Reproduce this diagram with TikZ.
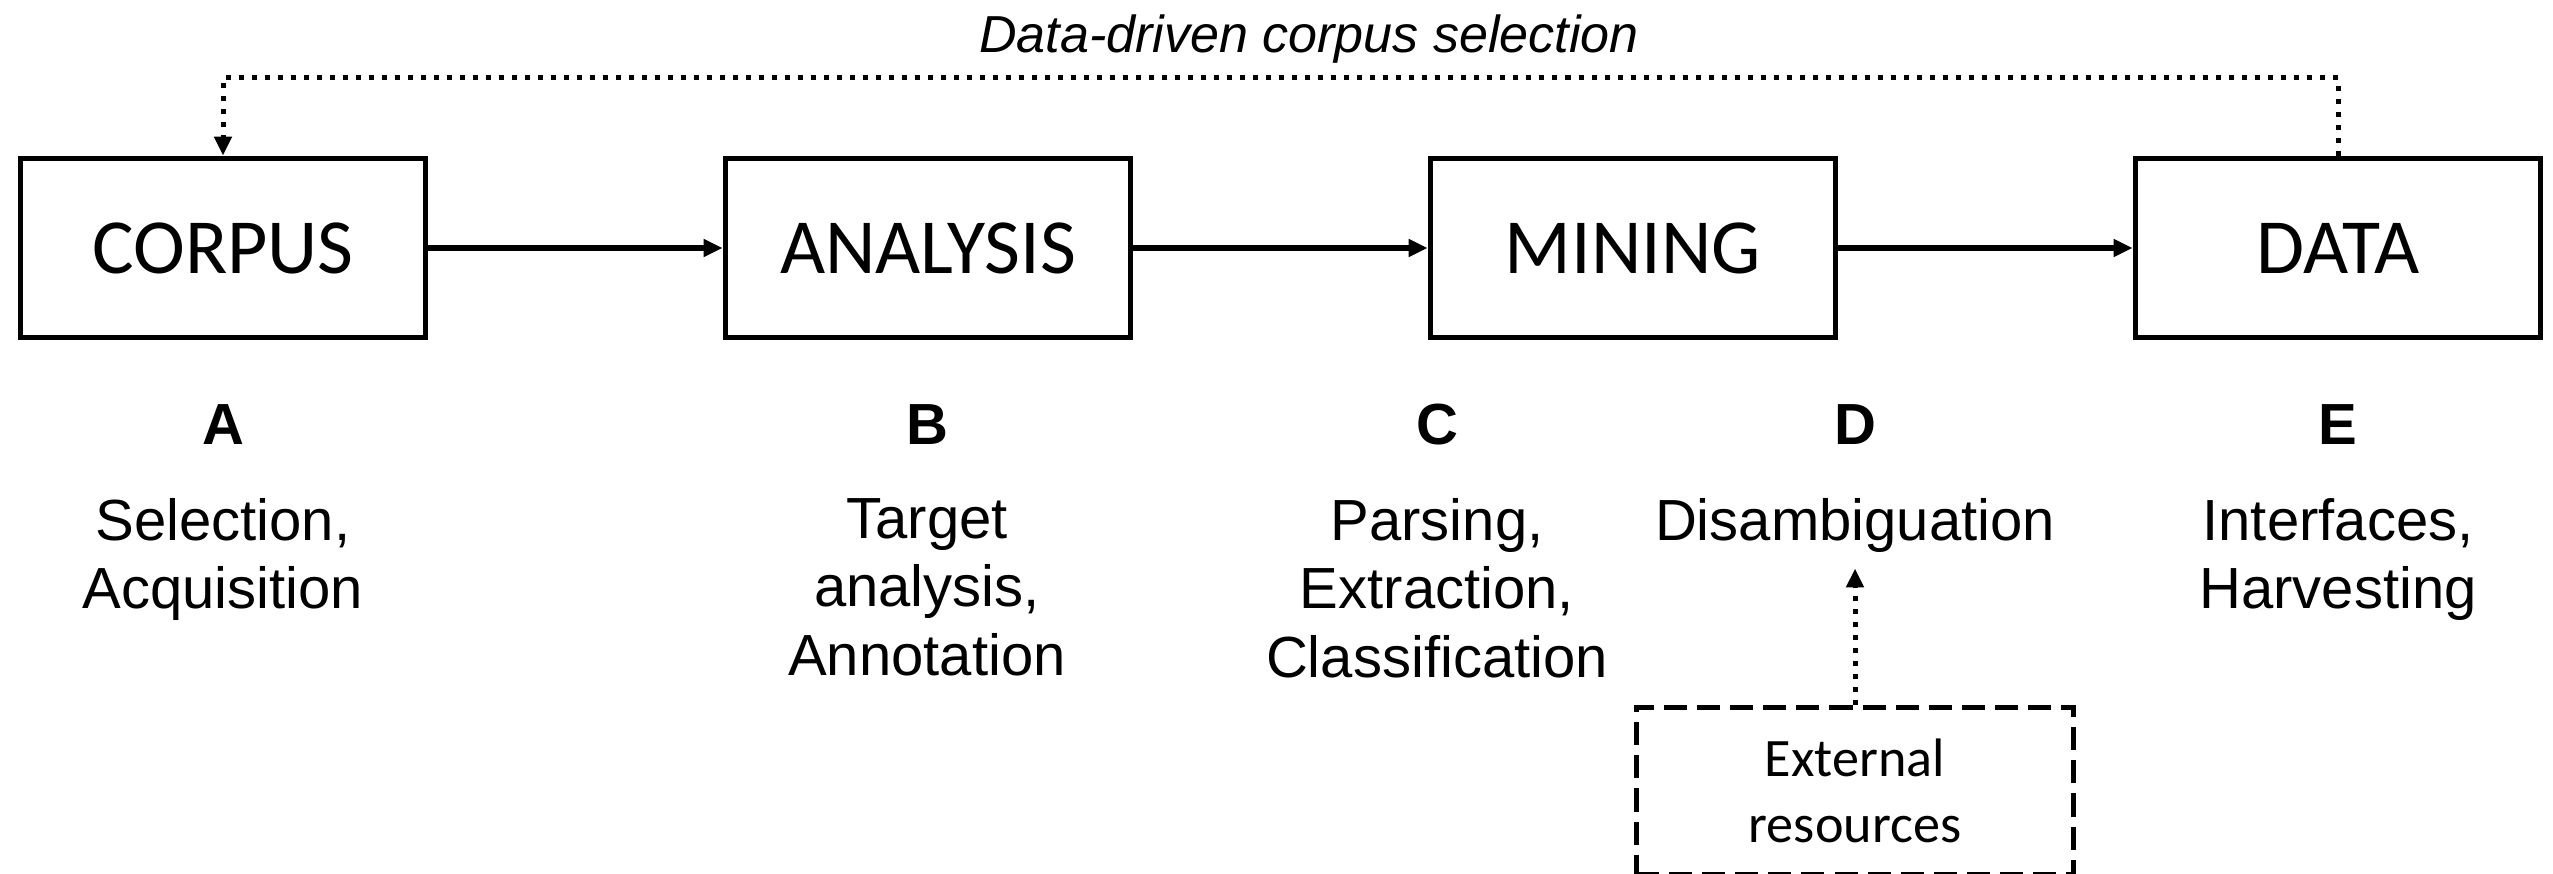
\documentclass[tikz,border=0pt]{standalone}
\usepackage{fontspec}
\setmainfont{Liberation Sans}
\newfontfamily\stagefont{Carlito}
\usepackage{tikz}
\usetikzlibrary{positioning,arrows.meta}
\tikzset{%
	stage/.style={
		rectangle,
		draw,
		line width=0.055cm,
		minimum width=4.05cm,
		minimum height=1.79cm,
		font=\stagefont\fontsize{22.2}{26}\selectfont
	},
	stage-letter/.style={
		anchor=base,
		inner sep=0pt,
		font=\bfseries\fontsize{16.5}{19.6}\selectfont
	},
	stage-task/.style={
		anchor=north,
		inner sep=0pt,
		align=center,
		font=\fontsize{16.5}{19.4}\selectfont
	},
	resource/.style={
		draw,
		line width=0.05cm,
		dash pattern=on 0.23cm off 0.1cm,
		minimum width=4.37cm,
		minimum height=1.67cm,
		align=center,
		font=\stagefont\fontsize{15.4}{19}\selectfont
	},
	flow/.style={->, line width=0.055cm},
	feedback/.style={->, line width=0.05cm, dash pattern=on 0.05cm off 0.08cm},
}

\begin{document}
\begin{tikzpicture}[x=0.01cm, y=-0.01cm, >={Triangle[length=0.19cm,width=0.17cm]}]
\useasboundingbox (0,0) rectangle (2553,874);

% stages
\foreach \m [count=\y] in {CORPUS,ANALYSIS,MINING,DATA}
	\node[stage] (stage-\y) at (223+705*\y-705,248) {\m};

% stage letters
\foreach \l/\x [count=\i] in {A/223,B/927,C/1437,D/1855,E/2338}
	\node[stage-letter] (letter-\i) at (\x,445) {\l};

% tasks
\foreach \x/\t [count=\i] in {223/{Selection,\\Acquisition},927/{Target\\analysis,\\Annotation},1437/{Parsing,\\Extraction,\\Classification},1855/{Disambiguation},2338/{Interfaces,\\Harvesting}}
	\node[stage-task] (task-\i) at (\x,498) {\t};

% external resources
\node[resource] (ext) at (1855,791) {External\\resources};

% connections
\foreach \i [count=\j from 2] in {1,2,3}
	\draw[flow] (stage-\i) -- (stage-\j);
\draw[feedback] (stage-4.north) -- ++(0,-78) -| (stage-1.north);
\draw[feedback, shorten >=0.15cm] (ext.north) -- (ext.north |- task-4.south);

% loop label
\node[anchor=base, inner sep=0pt, font=\itshape\fontsize{14.8}{17}\selectfont] (loop-label) at (1309,53) {Data-driven corpus selection};

\end{tikzpicture}
\end{document}
